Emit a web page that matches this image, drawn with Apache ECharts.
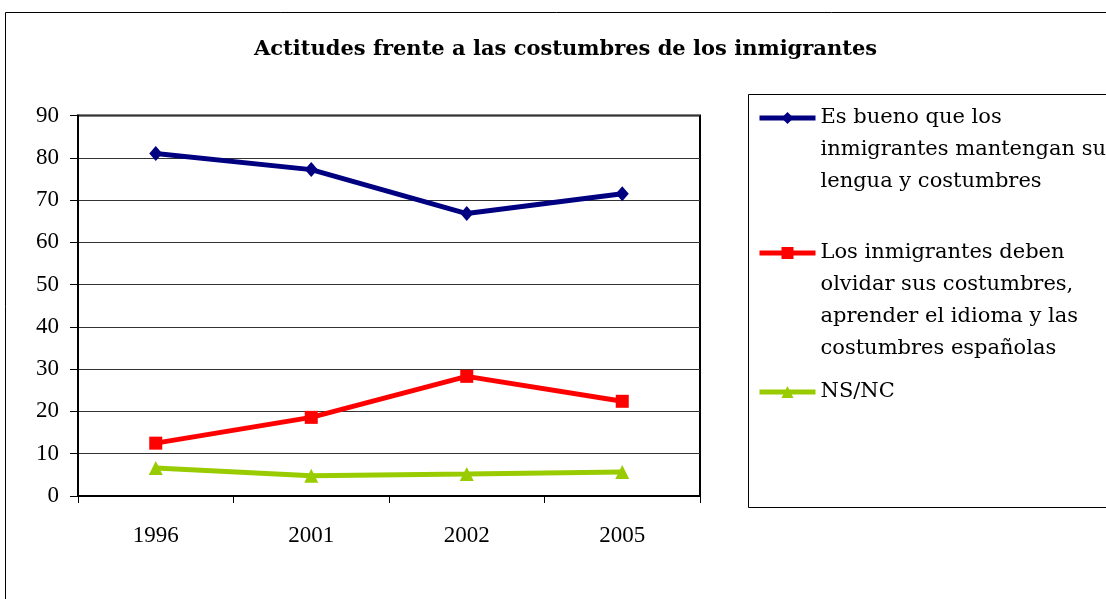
<!DOCTYPE html>
<html>
<head>
<meta charset="utf-8">
<script src="https://cdn.jsdelivr.net/npm/echarts@6/dist/echarts.min.js"></script>
<style>html,body{margin:0;padding:0;background:#fff}#c{width:1106px;height:599px}</style>
</head>
<body>
<div id="c"></div>
<script>
const categories = ['1996', '2001', '2002', '2005'];
const seriesNames = [
  'Es bueno que los\ninmigrantes mantengan su\nlengua y costumbres',
  'Los inmigrantes deben\nolvidar sus costumbres,\naprender el idioma y las\ncostumbres españolas',
  'NS/NC'
];
const mantener = [81.0, 77.2, 66.8, 71.5];
const olvidar = [12.5, 18.6, 28.3, 22.4];
const nsnc = [6.6, 4.8, 5.2, 5.7];
const yTicks = [0, 10, 20, 30, 40, 50, 60, 70, 80, 90];

const FONT = 'Liberation Serif';
const FONT2 = 'DejaVu Serif';
const chart = echarts.init(document.getElementById('c'), null, {renderer: 'canvas'});

function pad(name) {
  const n = name.split('\n').length;
  return '\n'.repeat(n - 1) + name;
}
function legendFor(idx, top) {
  return {
    data: [seriesNames[idx]],
    left: 757, top: top, orient: 'vertical', padding: 0,
    itemWidth: 56, itemHeight: 15, itemGap: 0,
    selectedMode: false,
    lineStyle: {width: 5},
    formatter: pad,
    textStyle: {fontFamily: FONT2, fontSize: 21, color: '#000', lineHeight: 32}
  };
}

chart.setOption({
  animation: false,
  backgroundColor: '#fff',
  title: {
    text: 'Actitudes frente a las costumbres de los inmigrantes',
    left: 254, top: 39, padding: 0,
    textStyle: {fontFamily: FONT2, fontWeight: 'bold', fontSize: 21, color: '#000'}
  },
  graphic: [
    {type: 'rect', shape: {x: 5.5, y: 12.5, width: 1300, height: 800}, style: {fill: 'none', stroke: '#000', lineWidth: 1}, silent: true, z: -1},
    {type: 'rect', shape: {x: 748.5, y: 94.5, width: 500, height: 413}, style: {fill: 'none', stroke: '#000', lineWidth: 1}, silent: true, z: -1}
  ],
  legend: [legendFor(0, 38), legendFor(1, 141), legendFor(2, 376)],
  grid: {left: 78, right: 406, top: 115.5, bottom: 103, show: true, borderColor: '#000', borderWidth: 2, backgroundColor: 'transparent'},
  xAxis: {
    type: 'category', data: categories, boundaryGap: true,
    axisLine: {lineStyle: {color: '#000', width: 2}},
    axisTick: {show: true, length: 7, interval: 0, lineStyle: {color: '#000', width: 1}},
    axisLabel: {fontFamily: FONT, fontSize: 23, color: '#000', margin: 28, interval: 0},
    splitLine: {show: false}
  },
  yAxis: {
    type: 'value', min: 0, max: 90, interval: 10,
    axisLine: {show: true, lineStyle: {color: '#000', width: 2}},
    axisTick: {show: true, length: 8, lineStyle: {color: '#000', width: 1}},
    axisLabel: {fontFamily: FONT, fontSize: 23, color: '#000', margin: 19,
      formatter: v => yTicks.includes(v) ? String(v) : ''},
    splitLine: {show: true, lineStyle: {color: '#333', width: 1}}
  },
  series: [
    {name: seriesNames[0], type: 'line', data: mantener, symbol: 'diamond', symbolSize: [13, 15],
      lineStyle: {color: '#000080', width: 5}, itemStyle: {color: '#000080'}},
    {name: seriesNames[1], type: 'line', data: olvidar, symbol: 'rect', symbolSize: 13,
      lineStyle: {color: '#FF0000', width: 5}, itemStyle: {color: '#FF0000'}},
    {name: seriesNames[2], type: 'line', data: nsnc, symbol: 'triangle', symbolSize: 14,
      lineStyle: {color: '#99CC00', width: 5}, itemStyle: {color: '#99CC00'}}
  ]
});
</script>
</body>
</html>
